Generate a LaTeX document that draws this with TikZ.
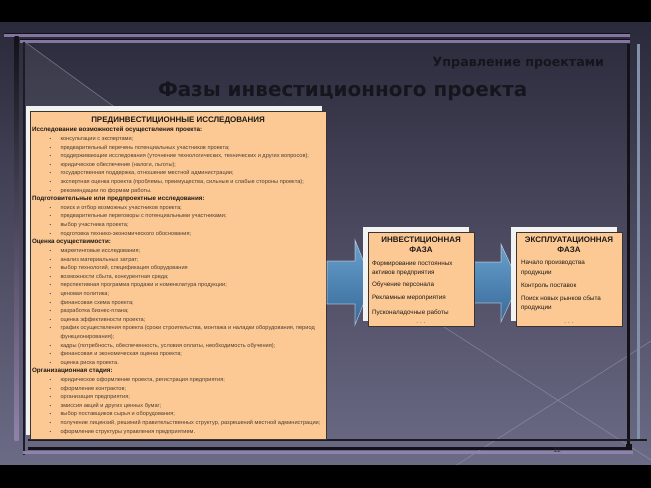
\documentclass[tikz,border=0pt]{standalone}
\usepackage{fontspec}
\setmainfont{Liberation Sans}
\newfontfamily\titlefont{DejaVu Sans}
\usetikzlibrary{calc}
\definecolor{bgtop}{HTML}{2B2A3B}
\definecolor{bgmid}{HTML}{424259}
\definecolor{bgbot}{HTML}{6C6B86}
\definecolor{peach}{HTML}{FCC995}
\definecolor{boxline}{HTML}{3A3430}
\definecolor{cardw}{HTML}{F2F2F2}
\definecolor{headc}{HTML}{1E1A16}
\definecolor{bodyc}{HTML}{4A3E34}
\definecolor{titlec}{HTML}{16151D}
\definecolor{arrtop}{HTML}{68A0CE}
\definecolor{arrbot}{HTML}{376A98}
\definecolor{frpurple}{HTML}{8474A0}
\definecolor{frdark}{HTML}{121217}
\definecolor{frlight}{HTML}{8290A8}
\definecolor{diagc}{HTML}{9A9AB4}
\begin{document}
\begin{tikzpicture}[x=1bp,y=-1bp,
  every node/.style={inner sep=0pt, outer sep=0pt},
  panel/.style={draw=boxline, line width=0.8bp, fill=peach},
  card/.style={fill=cardw},
  lhead/.style={anchor=base west, font=\fontsize{6.3}{7}\selectfont\bfseries, text=headc},
  lbody/.style={anchor=base west, font=\fontsize{5.65}{7}\selectfont, text=bodyc},
  lbul/.style={anchor=base, font=\fontsize{4.5}{5}\selectfont, text=bodyc},
  phead/.style={anchor=base, font=\fontsize{8}{9}\selectfont\bfseries, text=headc},
  ptext/.style={anchor=base west, font=\fontsize{6.35}{8}\selectfont, text=headc},
  diag/.style={draw=diagc, line width=0.7bp, opacity=0.55},
  blockarrow/.style={top color=arrtop, bottom color=arrbot, draw=white, draw opacity=0.55, line width=0.6bp}
]
\useasboundingbox (0,0) rectangle (651,488);
% background
\fill[black] (0,0) rectangle (651,488);
\shade[top color=bgtop, middle color=bgmid, bottom color=bgbot] (0,23) rectangle (651,464);
\begin{scope}
  \clip (0,23) rectangle (651,464);
  \fill[white, opacity=0.06] (25,42) -- (160,140) -- (25,140) -- cycle;
  \draw[diag] (25,42) -- (160,140);
  \draw[diag] (430,318) -- (651,460);
  \draw[diag] (651,341) -- (455,466);
\end{scope}
% frame lines
\draw[frdark, line width=1bp] (4,33.5) -- (630,33.5);
\draw[frpurple, line width=2.2bp] (4,35.5) -- (630,35.5);
\draw[frdark, line width=1bp] (20,39.5) -- (630,39.5);
\draw[frpurple, line width=2.2bp] (20,41.5) -- (630,41.5);
\shade[top color=frdark, bottom color=frpurple!90!white] (14.5,37) rectangle (18.5,440);
\draw[frdark!80!bgmid, line width=2bp] (24,42) -- (24,455);
\draw[frdark, line width=3bp] (628,44) -- (628,448);
\draw[frlight, line width=3bp] (638,44) -- (638,440);
\draw[frdark!90!bgbot, line width=1.5bp] (28,440) -- (647,440);
\draw[frdark, line width=2.5bp] (28,448.5) -- (631,448.5);
\draw[frpurple!90!white, line width=2.5bp] (23,452.5) -- (633,452.5);
\fill[frdark] (626,444) rectangle (632,450);
\node[font=\fontsize{7}{7}\selectfont, text=frdark!70!bgbot] (pg) at (557,450) {11};
% titles
\node[anchor=base east, font=\titlefont\bfseries\fontsize{12.7}{15}\selectfont, text=titlec] (sub) at (604,66.5) {Управление проектами};
\node[anchor=base west, font=\titlefont\bfseries\fontsize{20}{22}\selectfont, text=titlec] (title) at (158,96.7) {Фазы инвестиционного проекта};
% left panel
\fill[card] (26,106) rectangle (322,435);
\node[panel, minimum width=296bp, minimum height=328bp] (pre) at (178,275) {};
\node[phead] (preh) at (178,122.5) {ПРЕДИНВЕСТИЦИОННЫЕ ИССЛЕДОВАНИЯ};
\foreach \x/\txt [count=\i] in {
35/{Исследование возможностей осуществления проекта:},
60/{консультации с экспертами;},
60/{предварительный перечень потенциальных участников проекта;},
60/{поддерживающие исследования (уточнение технологических, технических и других вопросов);},
60/{юридическое обеспечение (налоги, льготы);},
60/{государственная поддержка, отношение местной администрации;},
60/{экспертная оценка проекта (проблемы, преимущества, сильные и слабые стороны проекта);},
60/{рекомендации по формам работы.},
35/{Подготовительные или предпроектные исследования:},
60/{поиск и отбор возможных участников проекта;},
60/{предварительные переговоры с потенциальными участниками;},
60/{выбор участника проекта;},
60/{подготовка технико-экономического обоснования;},
35/{Оценка осуществимости:},
60/{маркетинговые исследования;},
60/{анализ материальных затрат;},
60/{выбор технологий, спецификация оборудования},
60/{возможности сбыта, конкурентная среда;},
60/{перспективная программа продажи и номенклатура продукции;},
60/{ценовая политика;},
60/{финансовая схема проекта;},
60/{разработка бизнес-плана;},
60/{оценка эффективности проекта;},
60/{график осуществления проекта (сроки строительства, монтажа и наладки оборудования, период},
61/{функционирования);},
60/{кадры (потребность, обеспеченность, условия оплаты, необходимость обучения);},
60/{финансовая и экономическая оценка проекта;},
60/{оценка риска проекта.},
35/{Организационная стадия:},
60/{юридическое оформление проекта, регистрация предприятия;},
60/{оформление контрактов;},
60/{организация предприятия;},
60/{эмиссия акций и других ценных бумаг;},
60/{выбор поставщиков сырья и оборудования;},
60/{получение лицензий, решений правительственных структур, разрешений местной администрации;},
60/{оформление структуры управления предприятием.}}{
  \pgfmathsetmacro\yy{132+(\i-1)*8.6}
  \ifnum\x=35
    \node[lhead] (L\i) at (32,\yy) {\txt};
  \else
    \node[lbody] (L\i) at (60.5,\yy) {\txt};
  \fi
  \ifnum\x=60
    \node[lbul] (B\i) at (50.5,\yy) {\textbullet};
  \fi
}
% arrows
\path[blockarrow] (327,261) -- (355,261) -- (355,240) -- (372,282.5) -- (355,325) -- (355,304) -- (327,304) -- cycle;
\path[blockarrow] (474,262) -- (501,262) -- (501,244) -- (519,283) -- (501,322) -- (501,303) -- (474,303) -- cycle;
% investment phase
\fill[card] (363,227) rectangle (469,321);
\node[panel, minimum width=106bp, minimum height=94bp] (inv) at (421,279) {};
\node[phead] (invh1) at (421,243) {ИНВЕСТИЦИОННАЯ};
\node[phead] (invh2) at (421,253) {ФАЗА};
\node[ptext] (inv1) at (372,265) {Формирование постоянных};
\node[ptext] (inv2) at (372,274) {активов предприятия};
\node[ptext] (inv3) at (372,286.5) {Обучение персонала};
\node[ptext] (inv4) at (372,299.5) {Рекламные мероприятия};
\node[ptext] (inv5) at (372,314) {Пусконаладочные работы};
\node[ptext, anchor=base, text=bodyc] (inv6) at (421,323) {.\hspace{2bp}.\hspace{2bp}.};
% operation phase
\fill[card] (511,227) rectangle (617,321);
\node[panel, minimum width=106bp, minimum height=94bp] (exp) at (569,279) {};
\node[phead] (exph1) at (569,242.5) {ЭКСПЛУАТАЦИОННАЯ};
\node[phead] (exph2) at (569,253) {ФАЗА};
\node[ptext] (exp1) at (521,264.5) {Начало производства};
\node[ptext] (exp2) at (521,274) {продукции};
\node[ptext] (exp3) at (521,287) {Контроль поставок};
\node[ptext] (exp4) at (521,300) {Поиск новых рынков сбыта};
\node[ptext] (exp5) at (521,309.5) {продукции};
\node[ptext, anchor=base, text=bodyc] (exp6) at (569,323) {.\hspace{2bp}.\hspace{2bp}.};
\end{tikzpicture}
\end{document}
